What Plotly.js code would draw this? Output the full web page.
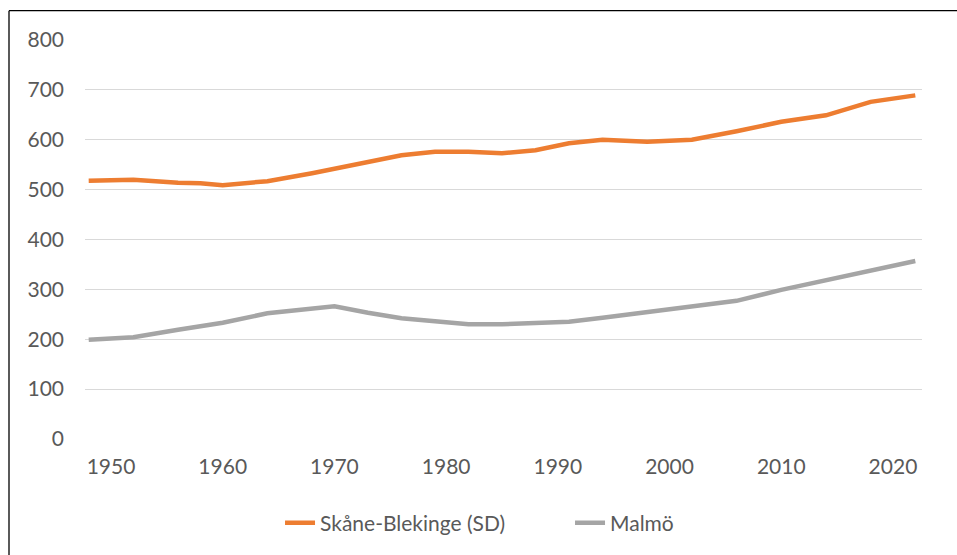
<!DOCTYPE html>
<html>
<head>
<meta charset="utf-8">
<script src="https://cdn.plot.ly/plotly-3.0.1.min.js"></script>
<style>
  html, body { margin: 0; padding: 0; background: #ffffff; }
  #chart { width: 957px; height: 555px; }
</style>
</head>
<body>
<div id="chart"></div>
<script>
// Election years
const years = [1948, 1952, 1956, 1958, 1960, 1964, 1968, 1970, 1973, 1976, 1979, 1982, 1985, 1988, 1991, 1994, 1998, 2002, 2006, 2010, 2014, 2018, 2022];
// Skåne-Blekinge (SD)
const skaneBlekinge = [518, 520, 514, 513, 509, 517, 533, 542, 555, 569, 576, 576, 573, 579, 593, 600, 596, 600, 617, 636, 649, 676, 689];
// Malmö
const malmo = [199, 204, 219, 227, 233, 252, 261, 266, 253, 242, 236, 230, 230, 232, 235, 243, 254, 265, 277, 299, 318, 339, 357];

const xTicks = [1950, 1960, 1970, 1980, 1990, 2000, 2010, 2020];
const yTicks = [0, 100, 200, 300, 400, 500, 600, 700, 800];

const fontFam = 'Lato, "Open Sans", sans-serif';
const textColor = '#595959';

const traces = [
  {
    x: years, y: skaneBlekinge, name: 'Skåne-Blekinge (SD)',
    type: 'scatter', mode: 'lines',
    line: { color: '#ED7D31', width: 4.5, shape: 'linear' }
  },
  {
    x: years, y: malmo, name: 'Malmö',
    type: 'scatter', mode: 'lines',
    line: { color: '#A5A5A5', width: 4.5, shape: 'linear' }
  }
];

const layout = {
  width: 957, height: 555,
  margin: { l: 85, r: 35, t: 39.5, b: 114.5, pad: 0 },
  paper_bgcolor: '#ffffff', plot_bgcolor: '#ffffff',
  font: { family: fontFam, size: 21, color: textColor },
  showlegend: true,
  legend: {
    orientation: 'h', x: 0.233, xanchor: 'left', y: -0.208, yanchor: 'middle',
    font: { family: fontFam, size: 21, color: textColor },
    entrywidth: 245, entrywidthmode: 'pixels',
    tracegroupgap: 0, bgcolor: 'rgba(0,0,0,0)'
  },
  xaxis: {
    range: [1947.67, 2022.6],
    tickvals: xTicks, ticktext: xTicks.map(String),
    showgrid: false, zeroline: false, showline: false,
    ticks: '', ticklabelstandoff: 13,
    tickfont: { family: fontFam, size: 21, color: textColor },
    fixedrange: true
  },
  yaxis: {
    range: [0, 800],
    tickvals: yTicks, ticktext: yTicks.map(String),
    showgrid: true, gridcolor: '#D9D9D9', gridwidth: 1.2,
    zeroline: false, showline: false,
    ticks: '', ticklabelstandoff: 20,
    tickfont: { family: fontFam, size: 21, color: textColor },
    fixedrange: true
  },
  shapes: [
    { type: 'line', xref: 'paper', yref: 'paper', x0: -0.0908, x1: -0.0908, y0: 1.0736, y1: -0.3, line: { color: '#000000', width: 1.3 } },
    { type: 'line', xref: 'paper', yref: 'paper', x0: -0.0908, x1: 1.1, y0: 1.0736, y1: 1.0736, line: { color: '#000000', width: 1.3 } }
  ]
};

Plotly.newPlot('chart', traces, layout, { displayModeBar: false, staticPlot: true });
</script>
</body>
</html>
